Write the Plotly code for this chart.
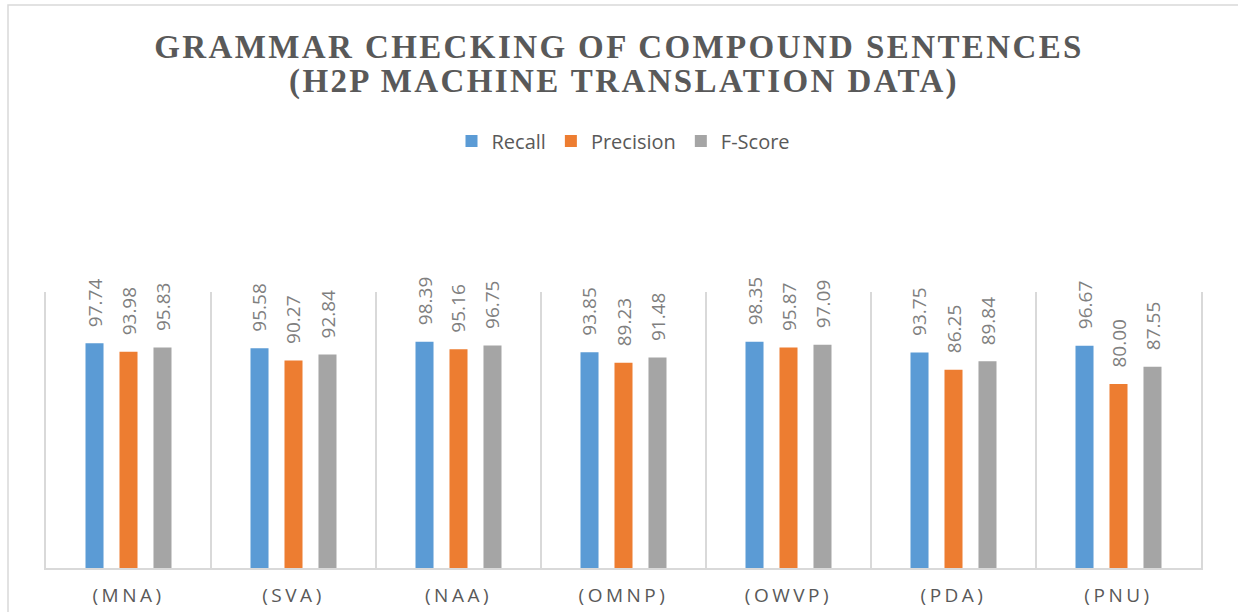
import plotly.graph_objects as go

categories = ["(MNA)", "(SVA)", "(NAA)", "(OMNP)", "(OWVP)", "(PDA)", "(PNU)"]
recall = [97.74, 95.58, 98.39, 93.85, 98.35, 93.75, 96.67]
precision = [93.98, 90.27, 95.16, 89.23, 95.87, 86.25, 80.00]
fscore = [95.83, 92.84, 96.75, 91.48, 97.09, 89.84, 87.55]
title_line1 = "GRAMMAR CHECKING OF COMPOUND SENTENCES"
title_line2 = "(H2P MACHINE TRANSLATION DATA)"

series = [("Recall", recall, "#5b9bd5"),
          ("Precision", precision, "#ed7d31"),
          ("F-Score", fscore, "#a5a5a5")]

fig = go.Figure()
for name, vals, color in series:
    fig.add_trace(go.Bar(x=categories, y=vals, name=name, marker_color=color,
                         marker_line_width=0))

# value labels (rotated), offset per series within group
offsets = [-34, 0, 34]
annotations = []
for (name, vals, color), dx in zip(series, offsets):
    for c, v in zip(categories, vals):
        annotations.append(dict(x=c, y=v, xref="x", yref="y", text=f"{v:.2f}",
                                showarrow=False, textangle=-90, xshift=dx, yshift=14,
                                yanchor="bottom", xanchor="center",
                                font=dict(family="Open Sans", size=19, color="#7f7f7f")))

title_font = dict(family="Liberation Serif", size=33, color="#595959")
annotations.append(dict(x=0.5, y=(568 - 81.5) / 276, xref="paper", yref="paper",
                        text=f'<b><span style="letter-spacing:2.4px">{title_line2}</span></b>',
                        showarrow=False, xanchor="center", yanchor="middle", font=title_font))

fig.update_layout(
    width=1238, height=612,
    margin=dict(l=46, r=37, t=292, b=44, autoexpand=False),
    paper_bgcolor="white", plot_bgcolor="white",
    barmode="group", bargap=0.382, bargroupgap=0.47,
    title=dict(text=f'<b><span style="letter-spacing:2.4px">{title_line1}</span></b>',
               x=0.5, xanchor="center", y=1 - 46.5 / 612, yanchor="middle",
               font=title_font),
    legend=dict(orientation="h", x=0.5, xanchor="center", y=1.547, yanchor="middle",
                font=dict(family="Open Sans", size=20, color="#595959"),
                itemwidth=30, traceorder="normal"),
    annotations=annotations,
    showlegend=True,
)
fig.update_xaxes(tickmode="array", tickvals=categories,
                 ticktext=[f'<span style="letter-spacing:3.5px">{c}</span>' for c in categories],
                 tickson="boundaries", showgrid=True, gridcolor="#d9d9d9", gridwidth=1.5,
                 showline=True, linecolor="#d9d9d9", linewidth=1.5, ticks="", automargin=False,
                 tickfont=dict(family="Open Sans", size=19, color="#595959"), ticklabelstandoff=9)
fig.update_yaxes(range=[0, 120], showgrid=False, showticklabels=False, zeroline=False,
                 automargin=False,
                 showline=True, mirror=True, linecolor="#d9d9d9", linewidth=1.5)
fig.add_shape(type="rect", xref="paper", yref="paper",
              x0=(8 - 46) / 1155, x1=(1250 - 46) / 1155, y0=-0.2, y1=(568 - 5) / 276,
              line=dict(color="#d9d9d9", width=1.5), fillcolor="rgba(0,0,0,0)", layer="below")
fig.write_html("out.html", config={"displayModeBar": False},
               post_script="document.body.style.margin='0';document.body.style.overflow='hidden';")
